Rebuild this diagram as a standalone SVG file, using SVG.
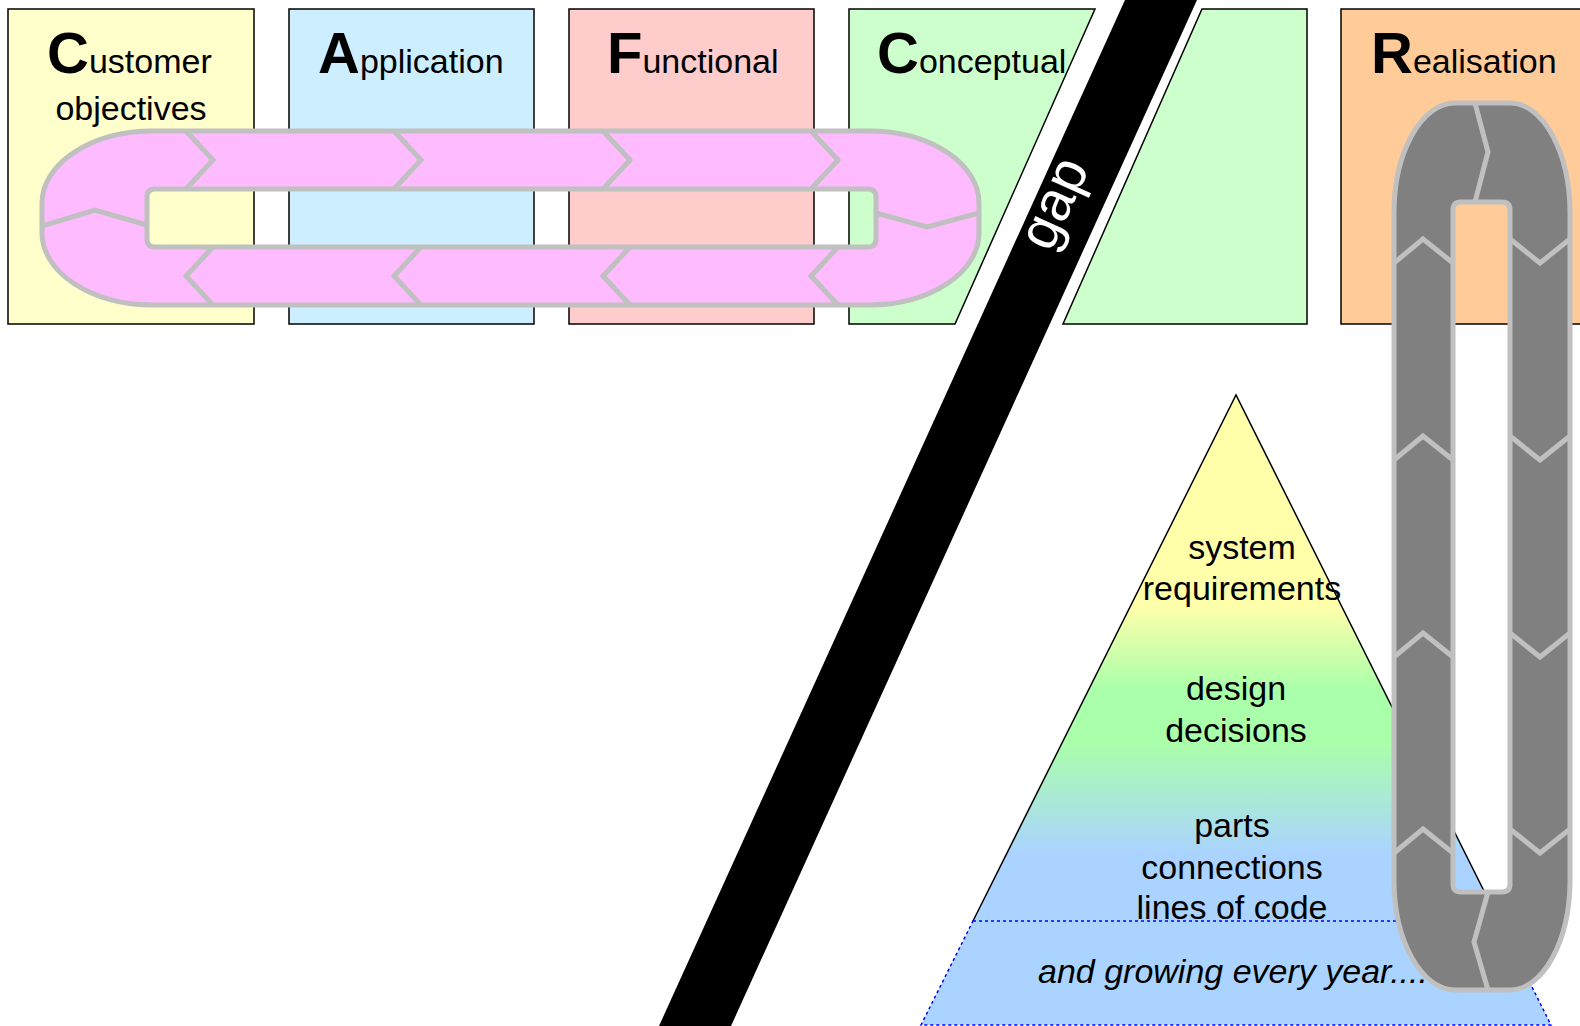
<svg xmlns="http://www.w3.org/2000/svg" width="1580" height="1026" viewBox="0 0 1580 1026">
<style>
.box{stroke:#000;stroke-width:1.5}
.t{font-family:"Liberation Sans",Arial,sans-serif;font-size:34px;fill:#000}
.cap{font-weight:bold;font-size:58px}
.loop{stroke:#c0c0c0;stroke-width:5;stroke-linejoin:round;fill-rule:evenodd}
.div{fill:none;stroke:#c0c0c0;stroke-width:5;stroke-linejoin:miter}
</style>
<defs>
<linearGradient id="pyrGrad" gradientUnits="userSpaceOnUse" x1="0" y1="395" x2="0" y2="921">
<stop offset="0" stop-color="#ffffaa"/>
<stop offset="0.40" stop-color="#ffffaa"/>
<stop offset="0.56" stop-color="#aaffaa"/>
<stop offset="0.66" stop-color="#aaffaa"/>
<stop offset="0.87" stop-color="#aad4ff"/>
<stop offset="1" stop-color="#aad4ff"/>
</linearGradient>
</defs>
<rect width="1580" height="1026" fill="#fff"/>

<g id="box-customer">
<rect class="box" x="8" y="9" width="246" height="315" fill="#ffffcc"/>
<text class="t" x="47" y="73"><tspan class="cap">C</tspan>ustomer</text>
<text class="t" x="131" y="120" text-anchor="middle">objectives</text>
</g>
<g id="box-application">
<rect class="box" x="289" y="9" width="245" height="315" fill="#cceeff"/>
<text class="t" x="318" y="73"><tspan class="cap">A</tspan>pplication</text>
</g>
<g id="box-functional">
<rect class="box" x="569" y="9" width="245" height="315" fill="#ffcccc"/>
<text class="t" x="607" y="73"><tspan class="cap">F</tspan>unctional</text>
</g>
<g id="box-conceptual">
<polygon class="box" points="849,9 1095,9 955,324 849,324" fill="#ccffcc"/>
<text class="t" x="877" y="73"><tspan class="cap">C</tspan>onceptual</text>
</g>
<g id="box-conceptual-2">
<polygon class="box" points="1202,9 1307,9 1307,324 1063,324" fill="#ccffcc"/>
</g>
<g id="box-realisation">
<rect class="box" x="1341" y="9" width="245" height="315" fill="#ffcc99"/>
<text class="t" x="1371" y="73"><tspan class="cap">R</tspan>ealisation</text>
</g>

<g id="gap-band">
<polygon points="1125,0 1197,0 731,1026 659,1026" fill="#000"/>
<text class="t" transform="translate(1062,207) rotate(-65.6)" x="0" y="9" text-anchor="middle" style="font-size:56px;fill:#fff">gap</text>
</g>

<g id="pyramid">
<polygon points="1236,395 1499,921 973,921" fill="url(#pyrGrad)"/>
<polyline points="973,921 1236,395 1499,921" fill="none" stroke="#000" stroke-width="1.5"/>
<polygon points="973,921 1499,921 1551,1025 921,1025" fill="#aad4ff" stroke="#0000ff" stroke-width="1.5" stroke-dasharray="3,3"/>
<text class="t" x="1242" y="559" text-anchor="middle">system</text>
<text class="t" x="1242" y="600" text-anchor="middle">requirements</text>
<text class="t" x="1236" y="700" text-anchor="middle">design</text>
<text class="t" x="1236" y="742" text-anchor="middle">decisions</text>
<text class="t" x="1232" y="837" text-anchor="middle">parts</text>
<text class="t" x="1232" y="879" text-anchor="middle">connections</text>
<text class="t" x="1232" y="919" text-anchor="middle">lines of code</text>
<text class="t" x="1038" y="983" font-style="italic">and growing every year....</text>
</g>

<g id="connectors">
<g id="loop-pink">
<path class="loop" fill="#ffbbff" d="M153,131 L869,131 A110,72 0 0 1 979,203 L979,233 A110,72 0 0 1 869,305 L153,305 A111,72 0 0 1 42,233 L42,203 A111,72 0 0 1 153,131 Z M155,189 L868,189 Q876,189 876,197 L876,239 Q876,247 868,247 L155,247 Q147,247 147,239 L147,197 Q147,189 155,189 Z"/>
<path class="div" d="M186,131 L213,160 L186,189 M394,131 L421,160 L394,189 M603,131 L630,160 L603,189 M811,131 L838,160 L811,189"/>
<path class="div" d="M213,247 L186,276 L213,305 M421,247 L394,276 L421,305 M630,247 L603,276 L630,305 M838,247 L811,276 L838,305"/>
<path class="div" d="M42,226 L95,210 L147,225 M876,213 L927,227 L979,213"/>
</g>
<g id="loop-grey">
<path class="loop" fill="#808080" d="M1455,103 L1510,103 A60,110 0 0 1 1570,213 L1570,880 A60,110 0 0 1 1510,990 L1455,990 A61,110 0 0 1 1394,880 L1394,213 A61,110 0 0 1 1455,103 Z M1461,202 L1502,202 Q1510,202 1510,210 L1510,884 Q1510,892 1502,892 L1461,892 Q1453,892 1453,884 L1453,210 Q1453,202 1461,202 Z"/>
<path class="div" d="M1394,263 L1423,239 L1453,263 M1394,460 L1423,436 L1453,460 M1394,657 L1423,633 L1453,657 M1394,853 L1423,829 L1453,853"/>
<path class="div" d="M1510,239 L1540,263 L1570,239 M1510,436 L1540,460 L1570,436 M1510,633 L1540,657 L1570,633 M1510,829 L1540,853 L1570,829"/>
<path class="div" d="M1475,103 L1488,152 L1475,202 M1488,892 L1474,942 L1488,990"/>
</g>
</g>
</svg>
